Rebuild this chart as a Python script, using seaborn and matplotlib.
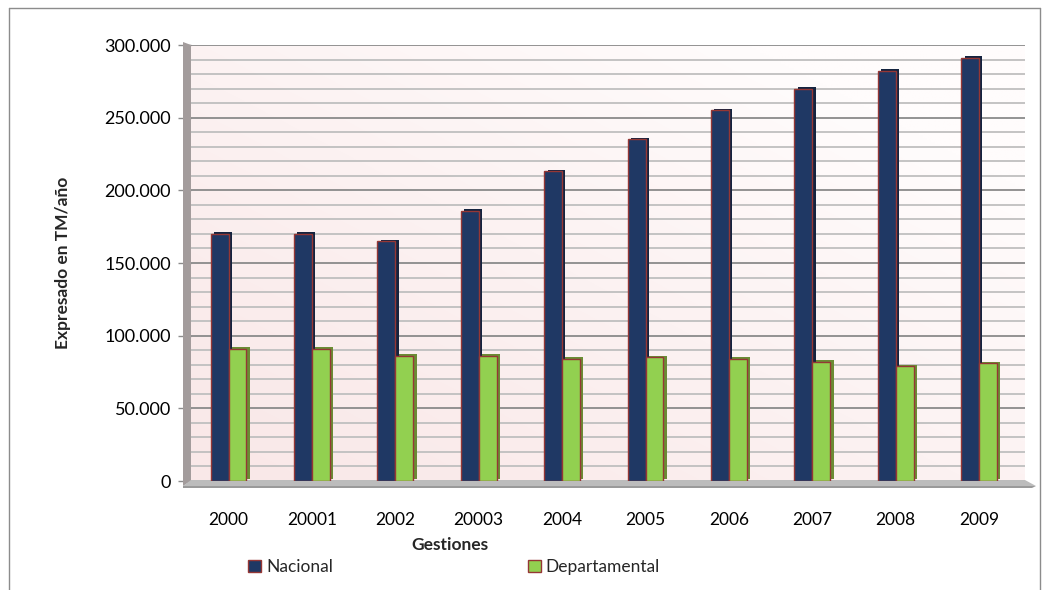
import numpy as np
import pandas as pd
import matplotlib
matplotlib.use("Agg")
import matplotlib.pyplot as plt
import matplotlib.patheffects as pe
from matplotlib.patches import Polygon, Rectangle
from matplotlib.lines import Line2D
from matplotlib.ticker import FuncFormatter, MultipleLocator
import seaborn as sns

# Production per year (TM/año)
gestiones = ["2000", "20001", "2002", "20003", "2004", "2005", "2006", "2007", "2008", "2009"]
nacional = [170000, 170000, 165000, 186000, 213000, 235000, 255000, 270000, 282000, 291000]
departamental = [91000, 91000, 86000, 86000, 84000, 85000, 84000, 82000, 79000, 81000]
series = ["Nacional", "Departamental"]

face_colors = ["#1f3864", "#92d050"]
side_colors = ["#14233f", "#6a8c34"]
edge_color = "#953735"

df = pd.DataFrame({
    "Gestión": gestiones * 2,
    "Valor": nacional + departamental,
    "Serie": [series[0]] * len(gestiones) + [series[1]] * len(gestiones),
})

sns.set_theme(style="white")
plt.rcParams["font.family"] = ["Lato", "DejaVu Sans"]

W, H = 1048, 590
fig = plt.figure(figsize=(W / 100, H / 100), dpi=100)
fig.patch.set_facecolor("white")
L, R, T, B = 191, 1025, 45, 481
ax = fig.add_axes([L / W, 1 - B / H, (R - L) / W, (B - T) / H])


def px(x, y):
    return (x / W, 1 - y / H)


sns.barplot(data=df, x="Gestión", y="Valor", hue="Serie", palette=face_colors,
            width=0.43, saturation=1, edgecolor=edge_color, linewidth=1.0,
            legend=False, ax=ax)

# give each column a shaded side face for a little depth
bars = list(ax.patches)
n = len(gestiones)
for i, bar in enumerate(bars[:2 * n]):
    side = side_colors[0] if i < n else side_colors[1]
    bar.set_zorder(3)
    bar.set_path_effects([
        pe.SimplePatchShadow(offset=(2.4, 1.2), shadow_rgbFace=side, alpha=1.0),
        pe.Normal(),
    ])

# soft pink wall gradient, whiter towards the upper right
gx = np.linspace(0, 1, 200)
gy = np.linspace(0, 1, 200)
GX, GY = np.meshgrid(gx, gy)
t = np.clip((GX * 0.6 + GY * 0.6), 0, 1) ** 1.2
c0 = np.array([249, 232, 232]) / 255
c1 = np.array([255, 252, 252]) / 255
grad = c0[None, None, :] * (1 - t[..., None]) + c1[None, None, :] * t[..., None]
ax.imshow(grad, extent=(0, 1, 0, 1), transform=ax.transAxes, origin="lower",
          aspect="auto", zorder=0, interpolation="bilinear")
ax.set_xlim(-0.5 + 0.05, 9.5 + 0.05)
ax.set_ylim(0, 300000)

# gridlines
ax.yaxis.set_major_locator(MultipleLocator(50000))
ax.yaxis.set_minor_locator(MultipleLocator(10000))
ax.set_axisbelow(True)
ax.grid(which="minor", axis="y", color="#bfbfbf", linewidth=1.3)
ax.grid(which="major", axis="y", color="#8a8a8a", linewidth=1.3)
ax.grid(which="major", axis="x", visible=False)

for s in ax.spines.values():
    s.set_visible(False)

ax.yaxis.set_major_formatter(FuncFormatter(lambda v, p: f"{int(v):,}".replace(",", ".")))
ax.tick_params(axis="y", which="major", length=9.5, width=1, color="#8c8c8c",
               pad=5, labelsize=13, labelcolor="#000000", left=True)
ax.tick_params(axis="y", which="minor", length=0)
ax.tick_params(axis="x", length=0, pad=22, labelsize=12.5, labelcolor="#000000")

ax.set_xlabel("Gestiones", fontweight="bold", fontsize=12.5, va="center")
ax.xaxis.set_label_coords((450 - L) / (R - L), (B - 545) / (B - T))
ax.set_ylabel("Expresado en TM/año", fontweight="bold", fontsize=12.5, va="center")
ax.yaxis.set_label_coords((63 - L) / (R - L), 0.5)

# left wall and floor slab
wall = Polygon([px(183, 42), px(191, 45), px(191, 481), px(183, 486)], closed=True,
               facecolor="#a39c9c", edgecolor="none", transform=fig.transFigure,
               clip_on=False, zorder=1)
floor = Polygon([px(183, 486), px(191, 480), px(1025, 480), px(1036, 486)], closed=True,
                facecolor="#bcbcbc", edgecolor="none", transform=fig.transFigure,
                clip_on=False, zorder=1)
floor_edge = Polygon([px(183, 486), px(1036, 486), px(1032, 488), px(183, 488)], closed=True,
                     facecolor="#9a9a9a", edgecolor="none", transform=fig.transFigure,
                     clip_on=False, zorder=1)
for p in (wall, floor, floor_edge):
    ax.add_patch(p)

# legend
handles = [Rectangle((0, 0), 1, 1, facecolor=c, edgecolor=edge_color, linewidth=1.0)
           for c in face_colors]
fig.legend(handles, series, loc="center left", bbox_to_anchor=(248 / W, 1 - 567 / H),
           ncol=2, frameon=False, handlelength=0.75, handleheight=0.75,
           handletextpad=0.3, columnspacing=11.2, fontsize=12.5, borderpad=0,
           borderaxespad=0)

# chart frame
frame_kw = dict(color="#8c8c8c", linewidth=1.0, transform=fig.transFigure)
fig.add_artist(Line2D([px(9, 0)[0], px(9, 0)[0]], [px(0, 8)[1], 0], **frame_kw))
fig.add_artist(Line2D([px(9, 0)[0], px(1040, 0)[0]], [px(0, 8)[1], px(0, 8)[1]], **frame_kw))
fig.add_artist(Line2D([px(1040, 0)[0], px(1040, 0)[0]], [px(0, 8)[1], 0], **frame_kw))

fig.savefig("out.png", dpi=100)
